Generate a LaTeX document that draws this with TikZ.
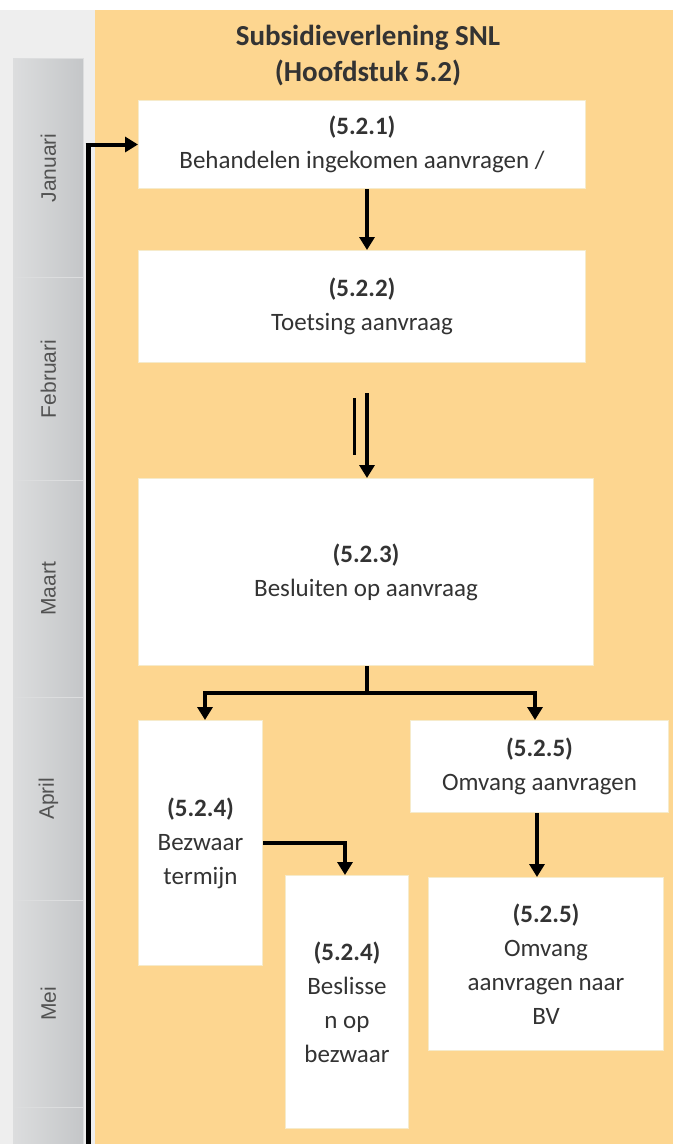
\documentclass[tikz,border=0pt]{standalone}
\usepackage{fontspec}
\setmainfont{Carlito}
\newfontfamily\monthfont{Liberation Sans}
\usetikzlibrary{arrows.meta}
\definecolor{bgorange}{HTML}{FDD690}
\definecolor{stripgrey}{HTML}{EEEEEE}
\definecolor{tabdark}{HTML}{C4C6C8}
\definecolor{tablight}{HTML}{DCDDDE}
\definecolor{txt}{HTML}{333333}
\definecolor{boxedge}{HTML}{F6EBCB}
\begin{document}
\begin{tikzpicture}[x=1pt,y=-1pt,
  procbox/.style={draw=boxedge,line width=1pt,fill=white,anchor=north west,inner sep=0pt,
    align=center,text=txt,font=\fontsize{25}{34}\selectfont},
  smallbox/.style={procbox},
  monthtab/.style={anchor=north west,inner sep=0pt,minimum width=70pt,
    left color=tablight,right color=tabdark,draw=tablight,line width=0.8pt},
  monthlabel/.style={rotate=90,text=black!68,font=\monthfont\fontsize{21}{24}\selectfont},
  flow/.style={line width=4pt,-{Triangle[width=15pt,length=13pt]}},
  plainline/.style={line width=4pt},
  thinline/.style={line width=3pt}]
\useasboundingbox (0,0) rectangle (673,1144);
\fill[white] (0,0) rectangle (673,1144);
\fill[stripgrey] (0,10) rectangle (95,1144);
\fill[bgorange] (95,10) rectangle (673,1144);
% month tabs
\node[monthtab,minimum height=219pt] (jan) at (13,58) {};
\node[monthtab,minimum height=203pt] (feb) at (13,277) {};
\node[monthtab,minimum height=217pt] (mrt) at (13,480) {};
\node[monthtab,minimum height=203pt] (apr) at (13,697) {};
\node[monthtab,minimum height=207pt] (mei) at (13,900) {};
\node[monthtab,minimum height=40pt] (jun) at (13,1107) {};
\node[monthlabel] (ljan) at (jan.center) {Januari};
\node[monthlabel] (lfeb) at (feb.center) {Februari};
\node[monthlabel] (lmrt) at (mrt.center) {Maart};
\node[monthlabel] (lapr) at (apr.center) {April};
\node[monthlabel] (lmei) at (mei.center) {Mei};
% title
\node[align=center,text=txt,font=\bfseries\fontsize{29}{36}\selectfont] (title) at (368,56)
  {Subsidieverlening SNL\\(Hoofdstuk 5.2)};
% boxes
\node[procbox,minimum width=447pt,minimum height=88pt] (b1) at (138,100)
  {\textbf{(5.2.1)}\\Behandelen ingekomen aanvragen /};
\node[procbox,minimum width=447pt,minimum height=112pt] (b2) at (138,250)
  {\textbf{(5.2.2)}\\Toetsing aanvraag};
\node[procbox,minimum width=455pt,minimum height=187pt] (b3) at (138,478)
  {\textbf{(5.2.3)}\\Besluiten op aanvraag};
\node[smallbox,minimum width=124pt,minimum height=245pt] (b4) at (138,720)
  {\textbf{(5.2.4)}\\Bezwaar\\termijn};
\node[procbox,minimum width=258pt,minimum height=92pt] (b5) at (410,720)
  {\textbf{(5.2.5)}\\Omvang aanvragen};
\node[smallbox,minimum width=123pt,minimum height=253pt] (b6) at (285,875)
  {\textbf{(5.2.4)}\\Beslisse\\n op\\bezwaar};
\node[smallbox,minimum width=235pt,minimum height=173pt] (b7) at (428,877)
  {\textbf{(5.2.5)}\\Omvang\\aanvragen naar\\BV};
% helper coordinates
\coordinate (cx) at (367,0);
\coordinate (thinx) at (354,0);
\coordinate (vline) at (88,0);
\coordinate (vbottom) at (88,1144);
\coordinate (split) at (367,693);
\coordinate (lft) at (205,693);
\coordinate (rgt) at (535,693);
\coordinate (c46) at (345,0);
\coordinate (c57) at (537,0);
% left timeline
\draw[plainline,line width=5pt] (vbottom) -- ([yshift=2pt]vline |- b1.west);
\draw[flow] ([xshift=-2.5pt]vline |- b1.west) -- (b1.west);
% flow arrows
\draw[flow] (b1.south -| cx) -- (b2.north -| cx);
\draw[thinline] ([yshift=-35pt]b2.south -| thinx) -- ([yshift=23pt]b3.north -| thinx);
\draw[flow] ([yshift=-30pt]b2.south -| cx) -- (b3.north -| cx);
\draw[plainline] (b3.south -| cx) -- (split);
\draw[plainline] ([xshift=-2pt]lft) -- ([xshift=2pt]rgt);
\draw[flow] (lft) -- (b4.north -| lft);
\draw[flow] (rgt) -- (b5.north -| rgt);
\draw[flow] (b4.east) -| (b6.north -| c46);
\draw[flow] (b5.south -| c57) -- (b7.north -| c57);
\end{tikzpicture}
\end{document}
